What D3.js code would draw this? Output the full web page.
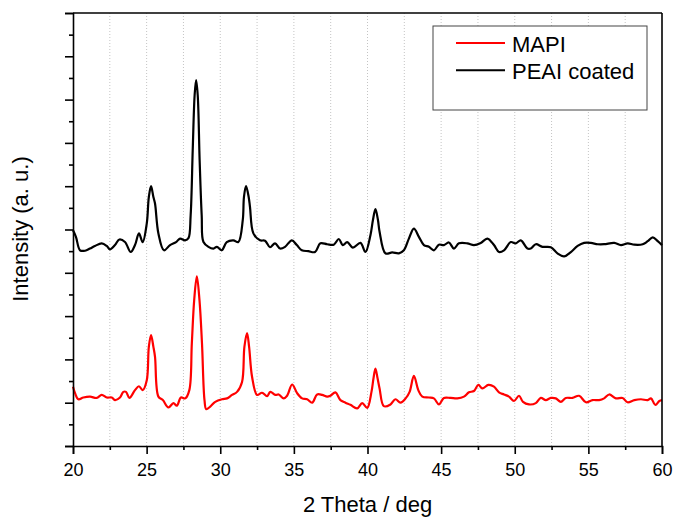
<!DOCTYPE html>
<html>
<head>
<meta charset="utf-8">
<script src="https://cdn.jsdelivr.net/npm/d3@7"></script>
<style>
body{margin:0;background:#fff;}
text{font-family:"Liberation Sans",Arial,sans-serif;}
</style>
</head>
<body>
<script>
// 2 theta (deg) and intensity (a.u.)
var peaiX = [20.0,20.2,20.48,20.82,21.15,21.49,21.95,22.29,22.51,22.85,23.15,23.53,23.92,24.21,24.48,24.73,25.01,25.15,25.3,25.46,25.57,25.8,26.18,26.59,27.0,27.27,27.61,27.84,27.99,28.13,28.26,28.36,28.47,28.6,28.74,28.86,29.2,29.54,29.77,30.1,30.44,30.89,31.23,31.53,31.61,31.75,31.93,32.02,32.25,32.7,33.04,33.38,33.72,34.06,34.4,34.86,35.2,35.54,35.98,36.44,36.8,37.26,37.71,38.05,38.32,38.62,39.0,39.52,39.86,40.2,40.37,40.54,40.71,40.82,41.22,41.68,42.13,42.47,42.81,43.15,43.49,43.83,44.17,44.51,44.85,45.19,45.53,45.87,46.21,46.78,47.23,47.69,48.14,48.59,48.93,49.27,49.73,50.07,50.41,50.86,51.09,51.43,51.88,52.45,52.9,53.35,53.81,54.27,54.71,55.17,55.63,56.07,56.76,57.21,57.67,58.12,58.69,59.03,59.37,59.71,60.0];
var peaiY = [4.98,4.83,4.52,4.51,4.56,4.62,4.68,4.62,4.54,4.64,4.77,4.71,4.48,4.64,4.91,4.71,5.14,5.75,6.0,5.75,5.6,4.91,4.52,4.64,4.71,4.79,4.75,4.8,5.33,6.83,8.1,8.45,8.1,6.6,5.33,4.71,4.6,4.56,4.6,4.52,4.71,4.75,4.71,5.22,5.75,6.0,5.75,5.52,4.91,4.75,4.74,4.59,4.68,4.56,4.6,4.75,4.64,4.52,4.5,4.48,4.68,4.66,4.65,4.78,4.64,4.71,4.58,4.69,4.48,4.87,5.22,5.47,5.22,4.95,4.45,4.47,4.45,4.52,4.79,5.02,4.83,4.64,4.6,4.52,4.65,4.64,4.7,4.56,4.68,4.68,4.64,4.69,4.79,4.64,4.48,4.52,4.71,4.68,4.75,4.56,4.56,4.66,4.6,4.59,4.45,4.38,4.48,4.62,4.69,4.69,4.66,4.66,4.69,4.64,4.68,4.65,4.66,4.73,4.82,4.73,4.64];

var mapiX = [20.0,20.14,20.36,20.7,21.16,21.61,21.95,22.29,22.63,22.85,23.19,23.42,23.6,23.83,24.21,24.48,24.73,25.01,25.15,25.3,25.46,25.57,25.8,26.1,26.48,26.82,27.05,27.33,27.62,27.9,28.07,28.23,28.41,28.59,28.76,28.93,29.05,29.32,29.66,30.12,30.46,30.8,31.14,31.48,31.64,31.82,31.96,32.16,32.5,32.84,33.18,33.4,33.74,33.97,34.31,34.54,34.88,35.22,35.56,35.9,36.24,36.58,36.92,37.26,37.48,37.82,38.16,38.5,38.84,39.3,39.64,39.98,40.27,40.41,40.54,40.68,40.82,41.11,41.56,41.9,42.24,42.59,42.86,43.15,43.45,43.72,44.17,44.51,44.85,45.19,45.65,46.1,46.55,46.89,47.23,47.53,47.8,48.21,48.59,48.93,49.27,49.61,49.95,50.29,50.56,50.97,51.43,51.77,52.11,52.45,52.79,53.13,53.47,53.92,54.37,54.83,55.28,55.73,56.07,56.41,56.87,57.32,57.66,58.12,58.57,59.03,59.25,59.55,59.82,60.0];
var mapiY = [1.37,1.22,1.08,1.12,1.14,1.11,1.18,1.12,1.12,1.06,1.12,1.25,1.25,1.11,1.29,1.38,1.29,1.52,2.29,2.56,2.29,2.06,1.14,1.06,0.89,0.99,0.93,1.12,1.1,1.29,2.37,3.37,3.92,3.37,2.37,1.06,0.85,0.91,1.02,1.08,1.1,1.18,1.25,1.48,2.29,2.61,2.29,1.6,1.18,1.23,1.15,1.25,1.18,1.19,1.1,1.16,1.42,1.22,1.1,1.08,1.0,1.19,1.18,1.14,1.16,1.24,1.06,1.0,0.95,0.87,0.99,0.88,1.25,1.57,1.79,1.57,1.33,0.92,0.96,1.08,1.0,1.1,1.25,1.62,1.29,1.14,1.12,1.1,0.96,1.11,1.11,1.1,1.14,1.24,1.27,1.41,1.33,1.41,1.37,1.24,1.19,1.14,1.04,1.16,1.02,0.96,0.99,1.11,1.06,1.11,1.1,1.02,1.11,1.11,1.16,1.01,1.06,1.06,1.1,1.19,1.1,1.11,1.01,1.06,1.08,1.06,1.1,0.95,1.04,1.06];

var xMajor = [20,25,30,35,40,45,50,55,60];
var xMinor = [22.5,27.5,32.5,37.5,42.5,47.5,52.5,57.5];
var yMajor = [0,1,2,3,4,5,6,7,8,9,10];
var yMinor = [0.5,1.5,2.5,3.5,4.5,5.5,6.5,7.5,8.5,9.5];
var seriesNames = ["MAPI","PEAI coated"];
var seriesColors = ["#ff0000","#000000"];

var W = 675, H = 517;
var m = {left:73, right:13, top:13, bottom:71};
var pw = W - m.left - m.right, ph = H - m.top - m.bottom;

var svg = d3.select("body").append("svg").attr("width",W).attr("height",H);
var g = svg.append("g").attr("transform","translate("+m.left+","+m.top+")");

var x = d3.scaleLinear().domain([20,60]).range([0,pw]);
var y = d3.scaleLinear().domain([0,10]).range([ph,0]);

// dotted vertical grid
g.selectAll("line.grid")
    .data(xMajor.concat(xMinor).filter(function(d){return d>20 && d<60;}))
    .enter().append("line")
    .attr("class","grid")
    .attr("x1",function(d){return x(d);}).attr("x2",function(d){return x(d);})
    .attr("y1",0).attr("y2",ph)
    .attr("stroke","#c4c4c4").attr("stroke-width",1).attr("stroke-dasharray","1,2");

var line = d3.line()
    .x(function(d){return x(d[0]);})
    .y(function(d){return y(d[1]);})
    .curve(d3.curveCatmullRom.alpha(0.5));

var series = [d3.zip(mapiX,mapiY), d3.zip(peaiX,peaiY)];
series.forEach(function(s,i){
  g.append("path")
    .attr("fill","none")
    .attr("stroke",seriesColors[i])
    .attr("stroke-width",2.2)
    .attr("stroke-linejoin","round")
    .attr("d",line(s));
});

// axes
var xa = g.append("g").attr("transform","translate(0,"+ph+")")
    .call(d3.axisBottom(x).tickValues(xMajor).tickSize(8).tickPadding(9).tickFormat(d3.format("d")));
g.append("g").attr("transform","translate(0,"+ph+")")
    .call(d3.axisBottom(x).tickValues(xMinor).tickSize(4).tickFormat(""))
    .select(".domain").remove();
g.append("g")
    .call(d3.axisLeft(y).tickValues(yMajor).tickSize(8).tickFormat(""));
g.append("g")
    .call(d3.axisLeft(y).tickValues(yMinor).tickSize(4).tickFormat(""))
    .select(".domain").remove();

g.selectAll(".domain").attr("stroke","#000").attr("stroke-width",1.6);
g.selectAll(".tick line").attr("stroke","#000").attr("stroke-width",1.6);
xa.selectAll("text").attr("font-size",18).attr("fill","#000")
    .style("font-family","'Liberation Sans',Arial,sans-serif");

// frame top and right
g.append("line").attr("x1",0).attr("x2",pw).attr("y1",0).attr("y2",0)
    .attr("stroke","#000").attr("stroke-width",1.6);
g.append("line").attr("x1",pw).attr("x2",pw).attr("y1",0).attr("y2",ph)
    .attr("stroke","#000").attr("stroke-width",1.6);

// titles
svg.append("text").attr("x",m.left+pw/2).attr("y",512)
    .attr("text-anchor","middle").attr("font-size",22).text("2 Theta / deg");
svg.append("text").attr("transform","translate(27.5,229) rotate(-90)")
    .attr("text-anchor","middle").attr("font-size",22).text("Intensity (a. u.)");

// legend
var lg = svg.append("g").attr("transform","translate(433,26)");
lg.append("rect").attr("width",214).attr("height",84)
    .attr("fill","#fff").attr("stroke","#444").attr("stroke-width",1);
seriesNames.forEach(function(n,i){
  lg.append("line").attr("x1",23).attr("x2",72)
    .attr("y1",17+i*27.3).attr("y2",17+i*27.3)
    .attr("stroke",seriesColors[i]).attr("stroke-width",2);
  lg.append("text").attr("x",79).attr("y",25.5+i*27.3)
    .attr("font-size",22).text(n);
});
</script>
</body>
</html>
